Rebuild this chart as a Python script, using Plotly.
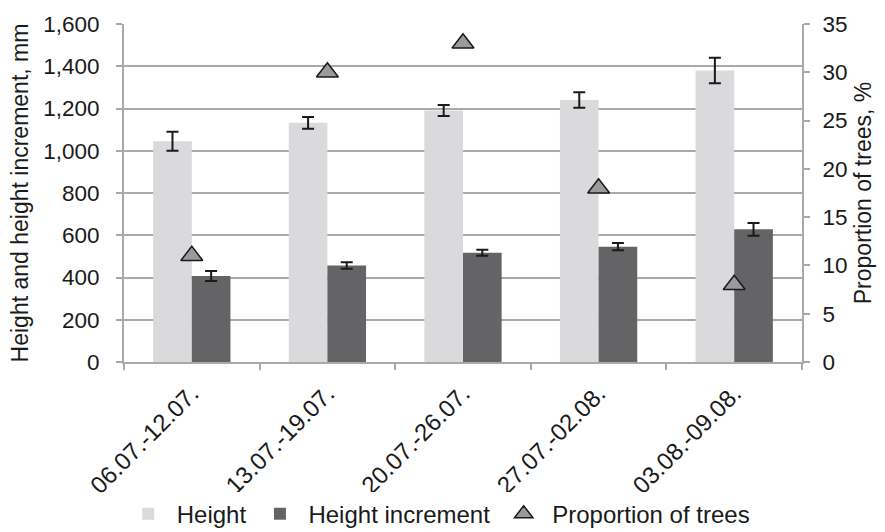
import plotly.graph_objects as go

categories = ["06.07.-12.07.", "13.07.-19.07.", "20.07.-26.07.", "27.07.-02.08.", "03.08.-09.08."]
height = [1045, 1132, 1190, 1240, 1380]
height_err = [45, 28, 26, 37, 60]
increment = [407, 457, 517, 546, 628]
increment_err = [24, 15, 14, 17, 30]
proportion = [11, 30, 33, 18, 8]

FONT = "Liberation Sans, Arial, sans-serif"
GRID = "#a9a9a9"

fig = go.Figure()
fig.add_trace(go.Bar(
    x=categories, y=height, name="Height",
    marker=dict(color="#dadadc", line=dict(width=0)),
    error_y=dict(type="data", array=height_err, color="#1a1a1a", thickness=2, width=6),
))
fig.add_trace(go.Bar(
    x=categories, y=increment, name="Height increment",
    marker=dict(color="#646466", line=dict(width=0)),
    error_y=dict(type="data", array=increment_err, color="#1a1a1a", thickness=2, width=6),
))
fig.add_trace(go.Scatter(
    x=categories, y=proportion, name="Proportion of trees", yaxis="y2",
    mode="markers",
    marker=dict(symbol="triangle-up", size=19, color="#9a9a9c",
                line=dict(color="#1a1a1a", width=1.5)),
))

fig.update_layout(
    width=885, height=532,
    margin=dict(l=124, r=83, t=24, b=170, autoexpand=False),
    paper_bgcolor="white", plot_bgcolor="white",
    font=dict(family=FONT, size=22, color="#1a1a1a"),
    barmode="group", bargap=0.43, bargroupgap=0,
    showlegend=True,
    legend=dict(orientation="h", x=0.462, xanchor="center", y=-0.45, yanchor="middle",
                font=dict(size=24), itemwidth=47, traceorder="normal"),
    xaxis=dict(
        tickangle=-45, tickfont=dict(size=24), automargin=False,
        showline=True, linecolor=GRID, linewidth=2,
        ticks="outside", tickson="boundaries", ticklen=6, tickcolor=GRID, tickwidth=2,
        showgrid=False, ticklabelstandoff=6,
    ),
    yaxis=dict(
        range=[0, 1600], dtick=200, tickformat=",", automargin=False,
        showline=True, linecolor=GRID, linewidth=2,
        ticks="outside", ticklen=6, tickcolor=GRID, tickwidth=2,
        showgrid=True, gridcolor=GRID, gridwidth=2,
        zeroline=False, tickfont=dict(size=22.5), ticklabelstandoff=12,
        title=dict(text="Height and height increment, mm", font=dict(size=23), standoff=8),
    ),
    yaxis2=dict(
        range=[0, 35], dtick=5, overlaying="y", side="right", automargin=False,
        showline=True, linecolor=GRID, linewidth=2,
        ticks="outside", ticklen=6, tickcolor=GRID, tickwidth=2,
        showgrid=False, zeroline=False, tickfont=dict(size=22.5), ticklabelstandoff=8,
        title=dict(text="Proportion of trees, %", font=dict(size=23), standoff=8),
    ),
)

fig.write_html("out.html")
